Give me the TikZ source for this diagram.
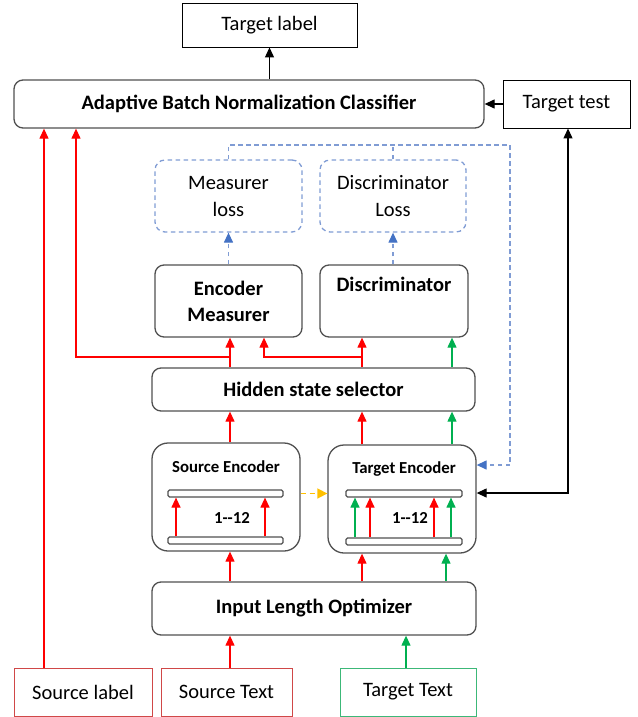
\documentclass[tikz,border=0pt]{standalone}
\usepackage{fontspec}
\setmainfont{Carlito}
\usetikzlibrary{arrows.meta}
\definecolor{bgray}{HTML}{505050}
\definecolor{rred}{HTML}{FF0000}
\definecolor{ggreen}{HTML}{00B050}
\definecolor{lblue}{HTML}{809CD4}
\definecolor{dblue}{HTML}{4472C4}
\definecolor{yyel}{HTML}{FFC000}
\definecolor{sred}{HTML}{D04848}
\definecolor{sgreen}{HTML}{3CB878}
\tikzset{
  rbox/.style={draw=bgray, line width=1.3pt, rounded corners=9pt, inner sep=0pt, align=center},
  pbox/.style={draw=black, line width=0.9pt, inner sep=0pt, align=center, font=\fontsize{20.5}{24}\selectfont},
  lbox/.style={draw=lblue, line width=1.3pt, dash pattern=on 4.5pt off 3.5pt, rounded corners=10pt, inner sep=0pt, align=center, font=\fontsize{20.5}{27}\selectfont},
  bigb/.style={font=\fontsize{20.5}{26}\bfseries\selectfont},
  midb/.style={font=\fontsize{16.8}{20}\bfseries\selectfont},
  barbox/.style={draw=bgray, line width=1.2pt, fill=white, rounded corners=1.5pt, inner sep=0pt},
  tip/.style={-{Triangle[length=10pt,width=9pt]}},
  rarr/.style={tip, draw=rred, line width=1.2pt},
  garr/.style={tip, draw=ggreen, line width=1.2pt},
  rline/.style={draw=rred, line width=1.2pt},
  barr/.style={draw=lblue, line width=1.3pt, dash pattern=on 4.5pt off 3.5pt, arrows={-{Triangle[length=10pt,width=9pt,color=dblue,fill=dblue]}}},
  bline/.style={draw=lblue, line width=1.3pt, dash pattern=on 4.5pt off 3.5pt},
  yarr/.style={draw=yyel, line width=1.6pt, dash pattern=on 5pt off 4pt, arrows={-{Triangle[length=10pt,width=10pt,color=yyel,fill=yyel]}}},
  karr/.style={draw=black, line width=1.2pt, arrows={{Triangle[length=10pt,width=9pt]}-{Triangle[length=10pt,width=9pt]}}},
}
\begin{document}
\begin{tikzpicture}[x=1pt,y=-1pt]
\useasboundingbox (0,0) rectangle (637,717);
% boxes
\node[pbox, minimum width=175pt, minimum height=44pt] (tlabel) at (269.5,25) {Target label};
\node[rbox, bigb, minimum width=470pt, minimum height=48pt] (abn) at (249,104) {Adaptive Batch Normalization Classifier};
\node[pbox, minimum width=127pt, minimum height=48pt] (ttest) at (566.5,104) {Target test};
\node[lbox, minimum width=147pt, minimum height=72pt] (mloss) at (228.5,196) {Measurer\\loss};
\node[lbox, minimum width=146pt, minimum height=72pt] (dloss) at (393,196) {Discriminator\\Loss};
\node[rbox, bigb, minimum width=147pt, minimum height=72pt] (em) at (228.5,301) {Encoder\\Measurer};
\node[rbox, bigb, minimum width=148pt, minimum height=72pt] (disc) at (394,301) {Discriminator\\\strut};
\node[rbox, bigb, minimum width=323pt, minimum height=43pt] (hss) at (313.5,389.5) {Hidden state selector};
\node[rbox, minimum width=148pt, minimum height=108pt, rounded corners=16pt] (se) at (226,497) {};
\node[rbox, minimum width=148pt, minimum height=108pt, rounded corners=16pt] (te) at (402,499) {};
\node[midb] (setitle) at (226,467) {Source Encoder};
\node[midb] (tetitle) at (404,469) {Target Encoder};
\node[rbox, bigb, minimum width=324pt, minimum height=53pt] (ilo) at (314,608.5) {Input Length Optimizer};
\node[pbox, draw=sred, minimum width=138pt, minimum height=48pt] (slabel) at (83,692) {Source label};
\node[pbox, draw=sred, minimum width=131pt, minimum height=48pt] (stext) at (226.5,692) {Source Text};
\node[pbox, draw=sgreen, minimum width=136pt, minimum height=48pt] (ttext) at (408,692) {Target Text};
% encoder internals
\node[barbox, minimum width=115pt, minimum height=7pt] (sebt) at (225.5,493.5) {};
\node[barbox, minimum width=115pt, minimum height=7pt] (sebb) at (225.5,540.5) {};
\node[barbox, minimum width=116pt, minimum height=7pt] (tebt) at (404,493.5) {};
\node[barbox, minimum width=116pt, minimum height=7pt] (tebb) at (404,541.5) {};
\node[midb] (senum) at (232,518) {1{-}{-}12};
\node[midb] (tenum) at (410,518) {1{-}{-}12};
% column coordinates
\coordinate (cA) at (44,0);
\coordinate (cB) at (76,0);
\coordinate (c1) at (230,0);
\coordinate (c2) at (264,0);
\coordinate (c3) at (362,0);
\coordinate (c4) at (452,0);
\coordinate (c5) at (446,0);
\coordinate (c6) at (406,0);
\coordinate (i1) at (176,0);
\coordinate (i2) at (265,0);
\coordinate (i3) at (355,0);
\coordinate (i4) at (370,0);
\coordinate (i5) at (434,0);
\coordinate (i6) at (451,0);
\coordinate (j1) at (230,357);
\coordinate (j2) at (362,357);
\coordinate (btop) at (510,145);
\coordinate (bright) at (510,465);
\coordinate (kc) at (568,493);
% top connectors
\draw[tip, line width=1.2pt] (tlabel.south |- abn.north) -- (tlabel.south);
\draw[tip, line width=1.2pt] (ttest.west) -- (abn.east);
\draw[rarr] (slabel.north -| cA) -- (abn.south -| cA);
\draw[rarr] (j1) -| (abn.south -| cB);
% selector to upper boxes
\draw[rarr] (hss.north -| c1) -- (em.south -| c1);
\draw[rarr] (hss.north -| c3) -- (disc.south -| c3);
\draw[rarr] (j2) -| (em.south -| c2);
\draw[garr] (hss.north -| c4) -- (disc.south -| c4);
% losses
\draw[barr] (em.north) -- (mloss.south);
\draw[barr] (dloss.south |- disc.north) -- (dloss.south);
\draw[bline] (mloss.north) |- (btop);
\draw[bline] (dloss.north) -- (dloss.north |- btop);
\draw[barr] (btop) -- (bright) -- (bright -| te.east);
% encoders to selector
\draw[rarr] (se.north -| c1) -- (hss.south -| c1);
\draw[rarr] (te.north -| c3) -- (hss.south -| c3);
\draw[garr] (te.north -| c4) -- (hss.south -| c4);
% optimizer to encoders
\draw[rarr] (ilo.north -| c1) -- (se.south -| c1);
\draw[rarr] (ilo.north -| c3) -- (te.south -| c3);
\draw[garr] (ilo.north -| c5) -- (te.south -| c5);
% inputs
\draw[rarr] (stext.north -| c1) -- (ilo.south -| c1);
\draw[garr] (ttext.north -| c6) -- (ilo.south -| c6);
% inner arrows
\draw[rarr] (sebb.north -| i1) -- (sebt.south -| i1);
\draw[rarr] (sebb.north -| i2) -- (sebt.south -| i2);
\draw[garr] (tebb.north -| i3) -- (tebt.south -| i3);
\draw[rarr] (tebb.north -| i4) -- (tebt.south -| i4);
\draw[rarr] (tebb.north -| i5) -- (tebt.south -| i5);
\draw[garr] (tebb.north -| i6) -- (tebt.south -| i6);
% yellow
\draw[yarr] (se.east |- sebt) -- (te.west |- sebt);
% black
\draw[karr] (ttest.south -| kc) -- (kc) -- (kc -| te.east);
\end{tikzpicture}
\end{document}
